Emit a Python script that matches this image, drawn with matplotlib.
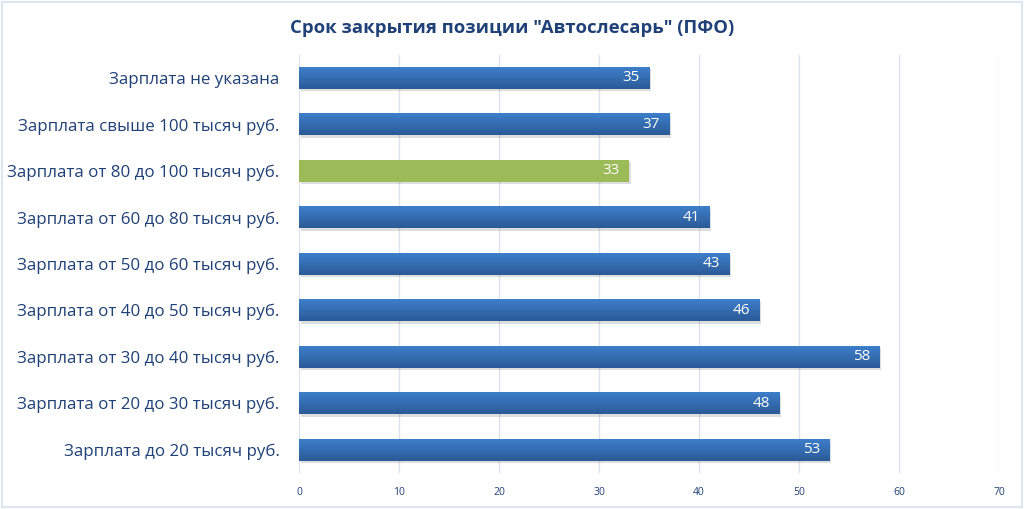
import matplotlib
matplotlib.use("Agg")
import matplotlib.pyplot as plt
import numpy as np
from matplotlib.patches import Rectangle
from matplotlib.colors import LinearSegmentedColormap

categories = [
    "Зарплата не указана",
    "Зарплата свыше 100 тысяч руб.",
    "Зарплата от 80 до 100 тысяч руб.",
    "Зарплата от 60 до 80 тысяч руб.",
    "Зарплата от 50 до 60 тысяч руб.",
    "Зарплата от 40 до 50 тысяч руб.",
    "Зарплата от 30 до 40 тысяч руб.",
    "Зарплата от 20 до 30 тысяч руб.",
    "Зарплата до 20 тысяч руб.",
]
values = [35, 37, 33, 41, 43, 46, 58, 48, 53]
highlight = "Зарплата от 80 до 100 тысяч руб."
title = 'Срок закрытия позиции "Автослесарь" (ПФО)'
xticks = [0, 10, 20, 30, 40, 50, 60, 70]

plt.rcParams['font.family'] = ['Open Sans', 'DejaVu Sans']
navy = '#1F4177'

fig = plt.figure(figsize=(10.24, 5.09), dpi=100)
fig.patches.append(Rectangle((0.002, 0.004), 0.996, 0.992, transform=fig.transFigure,
                             fill=False, edgecolor='#DCE6F2', linewidth=1.5))
ax = fig.add_axes([0.292, 0.0707, 0.6836, 0.822])

n = len(categories)
ypos = np.arange(n)[::-1]
colors = ['#9BBB59' if c == highlight else '#3366AA' for c in categories]
bars = ax.barh(ypos, values, height=0.47, color=colors, zorder=3,
               edgecolor='none')

grad = np.linspace(0, 1, 64).reshape(-1, 1)
cmap = LinearSegmentedColormap.from_list('g', ['#2B5A96', '#3D7FCB'])
for b, c in zip(bars, categories):
    x0, y0, w, h = b.get_x(), b.get_y(), b.get_width(), b.get_height()
    sh = Rectangle((x0 + 0.15, y0 - 0.05), w, h, facecolor='#000000', alpha=0.13,
                   zorder=2, edgecolor='none')
    ax.add_patch(sh)
    if c != highlight:
        im = ax.imshow(grad, cmap=cmap, aspect='auto', extent=(x0, x0 + w, y0, y0 + h),
                       origin='lower', zorder=3.5)
        im.set_clip_path(b)

for b, v in zip(bars, values):
    ax.text(b.get_width() - 0.9, b.get_y() + b.get_height() / 2, str(v),
            ha='right', va='center', color='white', fontsize=11, zorder=5)

ax.set_xlim(0, 70)
ax.set_ylim(-0.5, n - 0.5)
ax.set_xticks(xticks)
ax.set_xticklabels([str(t) for t in xticks], fontsize=7.5, color=navy)
ax.set_yticks(ypos)
ax.set_yticklabels(categories, fontsize=12.2, color=navy)
ax.tick_params(axis='both', length=0)
ax.tick_params(axis='x', pad=10)
ax.tick_params(axis='y', pad=14)
ax.xaxis.grid(True, color='#DCE3EE', linewidth=1, zorder=0)
ax.set_axisbelow(True)
for s in ax.spines.values():
    s.set_visible(False)

fig.text(0.5, 0.945, title, ha='center', va='center', fontsize=13.3,
         fontweight='bold', color=navy)

fig.savefig('out.png', dpi=100)
